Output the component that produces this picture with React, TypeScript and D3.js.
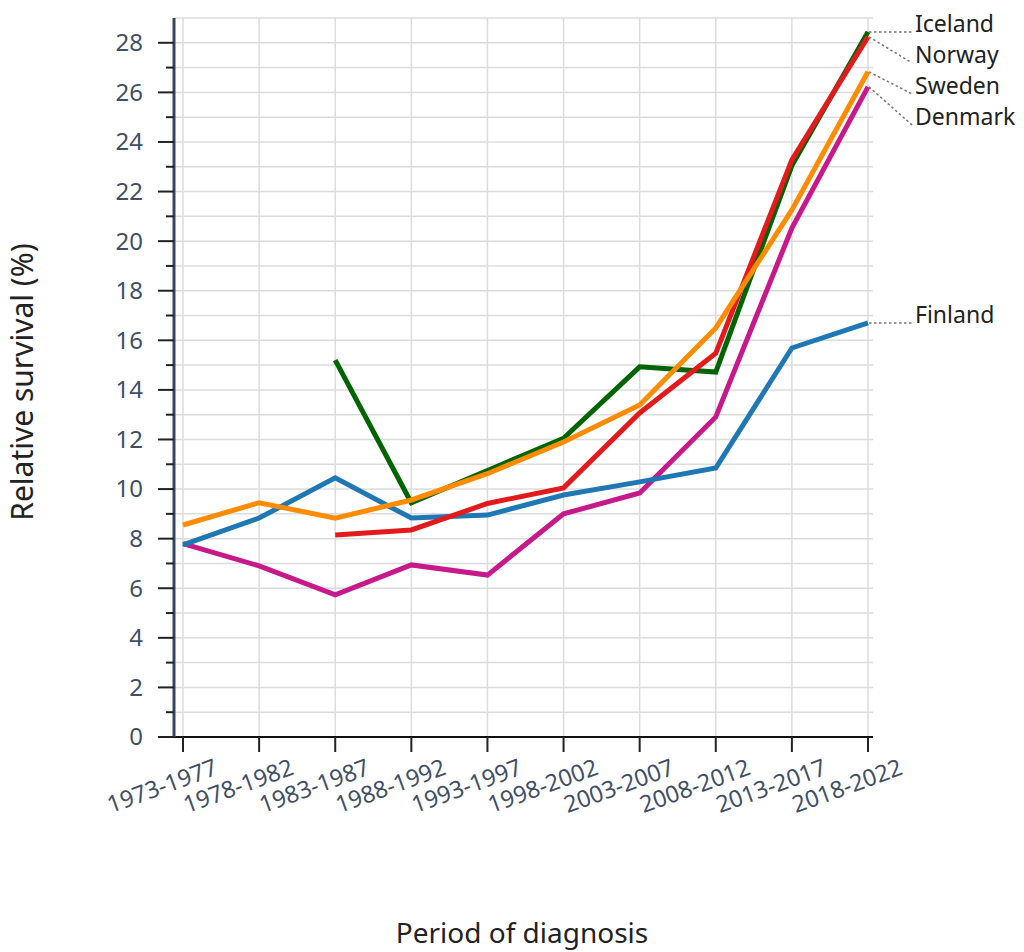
import React from "react";
import * as d3 from "d3";

const periods = ["1973-1977","1978-1982","1983-1987","1988-1992","1993-1997","1998-2002","2003-2007","2008-2012","2013-2017","2018-2022"];

const iceland = [null, null, 15.2, 9.45, 10.75, 12.05, 14.93, 14.72, 23.05, 28.44];
const norway = [null, null, 8.15, 8.35, 9.42, 10.05, 13.07, 15.48, 23.28, 28.24];
const sweden = [8.55, 9.45, 8.83, 9.56, 10.62, 11.9, 13.39, 16.5, 21.26, 26.83];
const denmark = [7.8, 6.9, 5.73, 6.94, 6.53, 9.0, 9.84, 12.91, 20.53, 26.22];
const finland = [7.75, 8.83, 10.45, 8.83, 8.95, 9.76, 10.29, 10.85, 15.69, 16.7];

const seriesNames = ["Denmark", "Finland", "Iceland", "Norway", "Sweden"];
const seriesValues = [denmark, finland, iceland, norway, sweden];
const seriesColors = ["#c7198a", "#1f77b4", "#006400", "#e31a1c", "#ff8c00"];

const yTicksMajor = d3.range(0, 29, 2);
const yTicksMinor = d3.range(1, 29, 2);

const W = 1024, H = 952;
const FONT = "'Noto Sans', sans-serif";
const TICK_COLOR = "#3f5066";

export default function App() {
  const x = d3.scalePoint<string>().domain(periods).range([183, 868]);
  const y = d3.scaleLinear().domain([0, 29]).range([737, 18]);
  const left = 174, right = 873;

  const line = d3.line<[string, number | null]>()
    .defined(d => d[1] != null)
    .x(d => x(d[0]) as number)
    .y(d => y(d[1] as number));

  const ends = seriesNames.map((n, i) => {
    const vals = seriesValues[i];
    const last = vals[vals.length - 1] as number;
    return { name: n, color: seriesColors[i], yEnd: y(last), yLab: y(last) };
  }).sort((a, b) => a.yEnd - b.yEnd);
  const gap = 31;
  for (let i = 1; i < ends.length; i++) {
    if (ends[i].yLab < ends[i - 1].yLab + gap) ends[i].yLab = ends[i - 1].yLab + gap;
  }

  const gridY = d3.range(1, 30);

  return (
    <svg width={W} height={H} style={{ position: "absolute", left: 0, top: 0, background: "#fff" }} fontFamily={FONT}>
      {gridY.map(v => (
        <line key={"gy" + v} x1={left} x2={right} y1={y(v)} y2={y(v)} stroke="#dcdcdc" strokeWidth={1.5} />
      ))}
      {periods.map(p => (
        <line key={"gx" + p} x1={x(p)} x2={x(p)} y1={y(29)} y2={y(0)} stroke="#dcdcdc" strokeWidth={1.5} />
      ))}
      <line x1={left} x2={right} y1={y(0)} y2={y(0)} stroke="#111" strokeWidth={2} />
      {periods.map(p => (
        <g key={"xt" + p}>
          <line x1={x(p)} x2={x(p)} y1={y(0)} y2={y(0) + 15} stroke="#222" strokeWidth={2} />
          <text
            transform={`translate(${(x(p) as number) + 36},${y(0) + 37}) rotate(-20)`}
            textAnchor="end" fontSize={23.5} fill={TICK_COLOR}>{p}</text>
        </g>
      ))}
      <line x1={left} x2={left} y1={y(29)} y2={y(0)} stroke="#34485e" strokeWidth={3} />
      {yTicksMajor.map(v => (
        <g key={"ym" + v}>
          <line x1={left - 16} x2={left} y1={y(v)} y2={y(v)} stroke="#222" strokeWidth={2} />
          <text x={143} y={y(v)} dy="0.35em" textAnchor="end" fontSize={24} fill={TICK_COLOR}>{v}</text>
        </g>
      ))}
      {yTicksMinor.map(v => (
        <line key={"yn" + v} x1={left - 8} x2={left} y1={y(v)} y2={y(v)} stroke="#222" strokeWidth={2} />
      ))}
      {seriesNames.map((n, i) => (
        <path key={n} d={line(periods.map((p, j) => [p, seriesValues[i][j]] as [string, number | null])) || ""}
          fill="none" stroke={seriesColors[i]} strokeWidth={5} strokeLinejoin="miter" />
      ))}
      {ends.map(e => (
        <g key={"lab" + e.name}>
          <line x1={869} y1={e.yEnd} x2={912} y2={e.yLab} stroke="#777" strokeWidth={1.5} strokeDasharray="2.5,2.5" />
          <text x={915} y={e.yLab} fontSize={23} fill="#222">{e.name}</text>
        </g>
      ))}
      <text transform={`translate(33,382) rotate(-90)`} textAnchor="middle" fontSize={30} fill="#222">Relative survival (%)</text>
      <text x={522} y={943} textAnchor="middle" fontSize={28} fill="#222">Period of diagnosis</text>
    </svg>
  );
}
